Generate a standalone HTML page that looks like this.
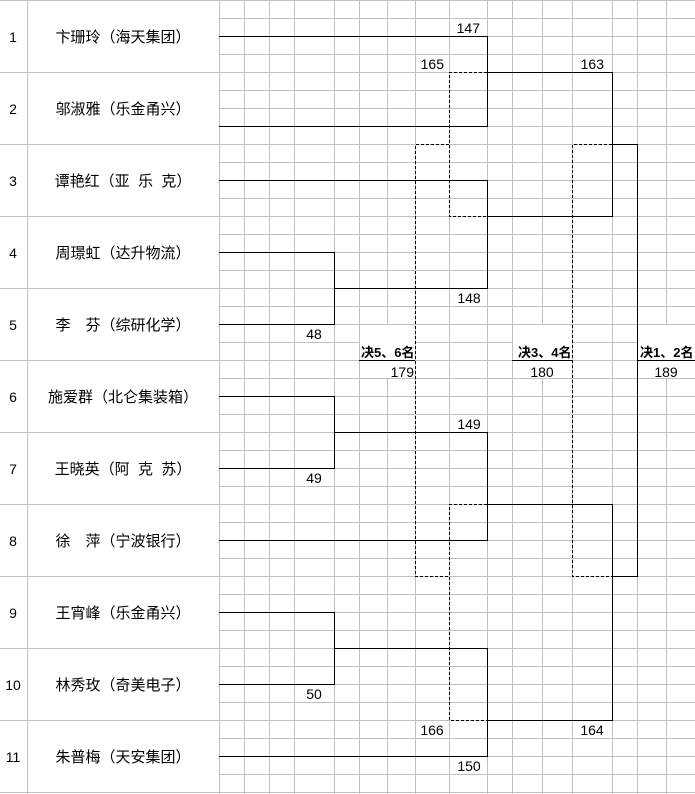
<!DOCTYPE html>
<html><head><meta charset="utf-8"><style>
html,body{margin:0;padding:0;background:#fff;}
svg{display:block;}
text{font-family:"Liberation Sans","Noto Sans CJK SC","WenQuanYi Zen Hei",sans-serif;}
.n{font-size:14px;fill:#000;}
.nm{font-size:15px;fill:#000;}
.b{font-size:13px;font-weight:bold;fill:#000;}
</style></head><body>
<svg width="695" height="794" viewBox="0 0 695 794" xmlns="http://www.w3.org/2000/svg">
<rect width="695" height="794" fill="#fff"/>
<g stroke="#c0c0c0" stroke-width="1" shape-rendering="crispEdges">
<path d="M219 0.5H695M219 18.5H695M219 36.5H695M219 54.5H695M219 72.5H695M219 90.5H695M219 108.5H695M219 126.5H695M219 144.5H695M219 162.5H695M219 180.5H695M219 198.5H695M219 216.5H695M219 234.5H695M219 252.5H695M219 270.5H695M219 288.5H695M219 306.5H695M219 324.5H695M219 342.5H695M219 360.5H695M219 378.5H695M219 396.5H695M219 414.5H695M219 432.5H695M219 450.5H695M219 468.5H695M219 486.5H695M219 504.5H695M219 522.5H695M219 540.5H695M219 558.5H695M219 576.5H695M219 594.5H695M219 612.5H695M219 630.5H695M219 648.5H695M219 666.5H695M219 684.5H695M219 702.5H695M219 720.5H695M219 738.5H695M219 756.5H695M219 774.5H695M219 792.5H695"/>
<path d="M219.5 0V794M244.5 0V794M269.5 0V794M294.5 0V794M334.5 0V794M359.5 0V794M387.5 0V794M415.5 0V794M449.5 0V794M487.5 0V794M512.5 0V794M542.5 0V794M572.5 0V794M612.5 0V794M637.5 0V794M666.5 0V794"/>
<path d="M0 0.5H219M0 72.5H219M0 144.5H219M0 216.5H219M0 288.5H219M0 360.5H219M0 432.5H219M0 504.5H219M0 576.5H219M0 648.5H219M0 720.5H219M0 792.5H219M27.5 0V794"/>
</g>
<g fill="#fff">
<rect x="295" y="325" width="39" height="17"/>
<rect x="295" y="469" width="39" height="17"/>
<rect x="295" y="685" width="39" height="17"/>
<rect x="360" y="325" width="55" height="53"/>
<rect x="513" y="325" width="59" height="53"/>
<rect x="638" y="325" width="57" height="53"/>
</g>
<g stroke="#c0c0c0" shape-rendering="crispEdges"><path d="M359 378.5H416M512 378.5H573M637 378.5H695"/></g>
<g stroke="#000" stroke-width="1" fill="none" shape-rendering="crispEdges">
<path d="M219 36.5H487.5V126.5H219"/>
<path d="M487.5 72.5H612.5V216.5H487.5"/>
<path d="M219 180.5H487.5V288.5H334.5"/>
<path d="M219 252.5H334.5V324.5H219"/>
<path d="M612.5 144.5H637.5V576.5H612.5"/>
<path d="M219 396.5H334.5V468.5H219"/>
<path d="M334.5 432.5H487.5V540.5H219"/>
<path d="M487.5 504.5H612.5V720.5H487.5"/>
<path d="M219 612.5H334.5V684.5H219"/>
<path d="M334.5 648.5H487.5V756.5H219"/>
<path d="M359 360.5H415M512 360.5H572M637 360.5H695"/>
</g>
<g stroke="#000" stroke-width="1" fill="none" stroke-dasharray="3,2" shape-rendering="crispEdges">
<path d="M487 72.5H449.5V216.5H487"/>
<path d="M449 144.5H415.5V576.5H449"/>
<path d="M612 144.5H572.5V576.5H612"/>
<path d="M487 504.5H449.5V720.5H487"/>
</g>
<g class="n" text-anchor="middle">
<text x="13" y="42">1</text><text x="13" y="114">2</text><text x="13" y="186">3</text><text x="13" y="258">4</text><text x="13" y="330">5</text><text x="13" y="402">6</text><text x="13" y="474">7</text><text x="13" y="546">8</text><text x="13" y="618">9</text><text x="13" y="690">10</text><text x="13" y="762">11</text>
</g>
<g class="nm" text-anchor="middle">
<text x="123" y="42">卞珊玲（海天集团）</text>
<text x="123" y="114">邬淑雅（乐金甬兴）</text>
<text x="123" y="186" xml:space="preserve">谭艳红（亚  乐  克）</text>
<text x="123" y="258">周璟虹（达升物流）</text>
<text x="123" y="330">李　芬（综研化学）</text>
<text x="123" y="402">施爱群（北仑集装箱）</text>
<text x="123" y="474" xml:space="preserve">王晓英（阿  克  苏）</text>
<text x="123" y="546">徐　萍（宁波银行）</text>
<text x="123" y="618">王宵峰（乐金甬兴）</text>
<text x="123" y="690">林秀玫（奇美电子）</text>
<text x="123" y="762">朱普梅（天安集团）</text>
</g>
<g class="n">
<text x="480" y="33" text-anchor="end">147</text>
<text x="444" y="69" text-anchor="end">165</text>
<text x="604" y="69" text-anchor="end">163</text>
<text x="314" y="339" text-anchor="middle">48</text>
<text x="469" y="303" text-anchor="middle">148</text>
<text x="414" y="377" text-anchor="end">179</text>
<text x="542" y="377" text-anchor="middle">180</text>
<text x="666" y="377" text-anchor="middle">189</text>
<text x="469" y="429" text-anchor="middle">149</text>
<text x="314" y="483" text-anchor="middle">49</text>
<text x="314" y="699" text-anchor="middle">50</text>
<text x="432" y="735" text-anchor="middle">166</text>
<text x="592" y="735" text-anchor="middle">164</text>
<text x="469" y="771" text-anchor="middle">150</text>
</g>
<g class="b">
<text x="361" y="357">决5、6名</text>
<text x="518" y="357">决3、4名</text>
<text x="640" y="357">决1、2名</text>
</g>
</svg>
</body></html>
